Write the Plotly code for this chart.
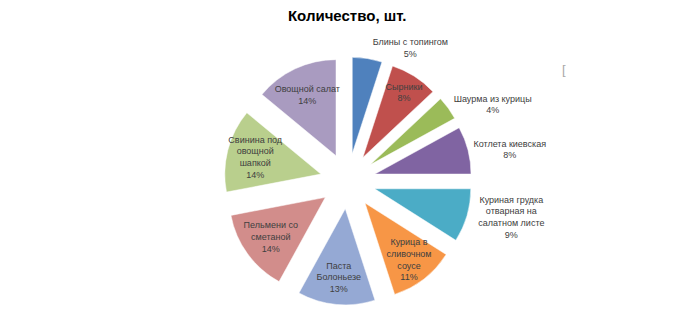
import plotly.graph_objects as go

labels = ["Блины с топингом", "Сырники", "Шаурма из курицы", "Котлета киевская",
          "Куриная грудка отварная на салатном листе", "Курица в сливочном соусе",
          "Паста Болоньезе", "Пельмени со сметаной", "Свинина под овощной шапкой",
          "Овощной салат"]
label_lines = ["Блины с топингом", "Сырники", "Шаурма из курицы", "Котлета киевская",
               "Куриная грудка<br>отварная на<br>салатном листе", "Курица в<br>сливочном<br>соусе",
               "Паста<br>Болоньезе", "Пельмени со<br>сметаной", "Свинина под<br>овощной<br>шапкой",
               "Овощной салат"]
values = [5, 8, 4, 8, 9, 11, 13, 14, 14, 14]
colors = ["#4F81BD", "#C0504D", "#9BBB59", "#8064A2", "#4BACC6", "#F79646",
          "#95A9D4", "#D28D8B", "#B9CF8D", "#A99BC0"]
positions = ["outside", "inside", "outside", "outside", "outside",
             "inside", "inside", "inside", "inside", "inside"]

fig = go.Figure(go.Pie(
    labels=labels,
    values=values,
    customdata=label_lines,
    texttemplate="%{customdata}<br>%{percent}",
    textposition=positions,
    insidetextorientation="horizontal",
    textfont=dict(family="Liberation Sans", size=9, color="#404040"),
    marker=dict(colors=colors, line=dict(color="white", width=0.5)),
    pull=[0.29] * len(values),
    sort=False,
    direction="clockwise",
    rotation=0,
    showlegend=False,
    automargin=False,
    hoverinfo="label+value+percent",
    domain=dict(x=[0.2, 0.794], y=[0.0287, 0.8185]),
))

fig.update_layout(
    width=700, height=314,
    autosize=False,
    margin=dict(l=0, r=0, t=0, b=0, pad=0, autoexpand=False),
    paper_bgcolor="white",
    plot_bgcolor="white",
    uniformtext=dict(minsize=9, mode="show"),
    title=dict(text="<b>Количество, шт.</b>", x=0.496, xanchor="center", y=0.95, yanchor="middle",
               font=dict(family="Liberation Sans", size=15, color="#000000")),
    annotations=[dict(text="[", x=0.806, y=0.78, xref="paper", yref="paper", showarrow=False,
                      xanchor="center", yanchor="middle",
                      font=dict(family="Liberation Sans", size=13, color="#A8A8A8"))],
)

fig.write_html("out.html")
